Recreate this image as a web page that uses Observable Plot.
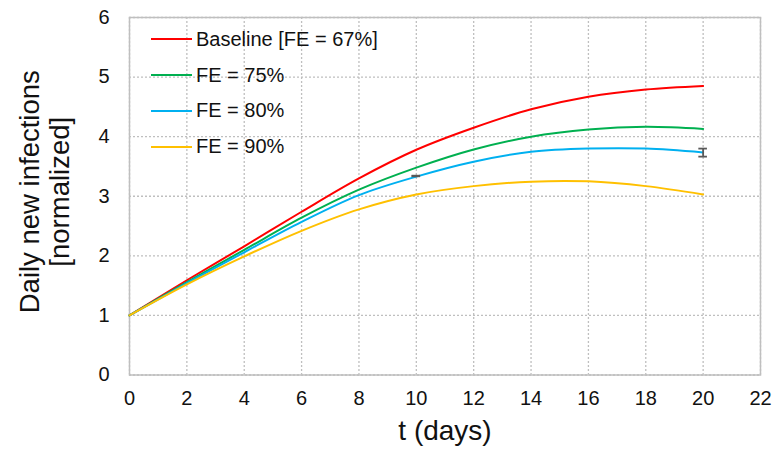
<!DOCTYPE html>
<html>
<head>
<meta charset="utf-8">
<script src="https://cdn.jsdelivr.net/npm/d3@7"></script>
<script src="https://cdn.jsdelivr.net/npm/@observablehq/plot@0.6"></script>
<style>
  body { margin: 0; background: #fff; }
  #wrap { position: relative; width: 772px; height: 450px; font-family: "Liberation Sans", Arial, sans-serif; }
  #legend { position: absolute; left: 0; top: 21.4px; }
  .item { height: 35.8px; display: flex; align-items: center; font-size: 20px; color: #111; }
  .item svg { margin-left: 151px; margin-right: 4px; }
</style>
</head>
<body>
<div id="wrap"><div id="legend"></div></div>
<script>
const t = [0, 2, 4, 6, 8, 10, 12, 14, 16, 18, 20];
const baseline = [1, 1.59, 2.16, 2.74, 3.30, 3.78, 4.15, 4.46, 4.67, 4.79, 4.85];
const fe75 = [1, 1.56, 2.10, 2.64, 3.11, 3.48, 3.785, 4.00, 4.12, 4.165, 4.13];
const fe80 = [1, 1.54, 2.06, 2.57, 3.02, 3.33, 3.58, 3.745, 3.80, 3.80, 3.735];
const fe90 = [1, 1.52, 1.99, 2.42, 2.78, 3.03, 3.17, 3.245, 3.25, 3.17, 3.03];
const seriesNames = ["Baseline [FE = 67%]", "FE = 75%", "FE = 80%", "FE = 90%"];
const seriesColors = ["#ff0000", "#00b050", "#00b0f0", "#ffc000"];
const xTicks = [0, 2, 4, 6, 8, 10, 12, 14, 16, 18, 20, 22];
const yTicks = [0, 1, 2, 3, 4, 5, 6];
const errT = [10, 20];
const errLo = [3.335, 3.665];
const errHi = [3.345, 3.80];

const seriesValues = [baseline, fe75, fe80, fe90];
const rows = [];
seriesValues.forEach((vals, si) => vals.forEach((v, i) => rows.push({t: t[i], v, s: seriesNames[si]})));
const errRows = errT.map((x, i) => ({t: x, lo: errLo[i], hi: errHi[i]}));
const capHalf = 0.15;

const chart = Plot.plot({
  width: 772, height: 450,
  marginLeft: 129, marginRight: 12, marginTop: 17, marginBottom: 75.5,
  style: {fontFamily: '"Liberation Sans", Arial, sans-serif', fontSize: "20px", color: "#111", background: "white", overflow: "visible"},
  x: {domain: [0, 22]},
  y: {domain: [0, 6]},
  color: {domain: seriesNames, range: seriesColors},
  marks: [
    Plot.gridX(xTicks, {stroke: "#bfbfbf", strokeOpacity: 1, strokeDasharray: "2,2", strokeWidth: 1.3}),
    Plot.gridY(yTicks, {stroke: "#bfbfbf", strokeOpacity: 1, strokeDasharray: "2,2", strokeWidth: 1.3}),
    Plot.frame({stroke: "#bfbfbf", strokeWidth: 1.5}),
    Plot.axisX(xTicks, {tickSize: 0, tickPadding: 16, label: null, fontSize: 20, tickFormat: d3.format("d")}),
    Plot.axisY(yTicks, {tickSize: 0, tickPadding: 20, label: null, fontSize: 20, tickFormat: d3.format("d")}),
    Plot.line(rows, {x: "t", y: "v", z: "s", stroke: "s", strokeWidth: 2, curve: "catmull-rom"}),
    Plot.ruleX(errRows, {x: "t", y1: "lo", y2: "hi", stroke: "#595959", strokeWidth: 1.8}),
    Plot.ruleY(errRows, {y: "lo", x1: d => d.t - capHalf, x2: d => d.t + capHalf, stroke: "#595959", strokeWidth: 1.8}),
    Plot.ruleY(errRows, {y: "hi", x1: d => d.t - capHalf, x2: d => d.t + capHalf, stroke: "#595959", strokeWidth: 1.8}),
    Plot.text(["t (days)"], {text: d => d, frameAnchor: "bottom", textAnchor: "middle", lineAnchor: "middle", dy: 56, fontSize: 28, fill: "#111"}),
    Plot.text(["Daily new infections\n[normalized]"], {text: d => d, frameAnchor: "left", textAnchor: "middle", lineAnchor: "middle", dx: -85.5, dy: -4.5, rotate: -90, fontSize: 27.5, lineHeight: 1.1, fill: "#111"})
  ]
});
const wrap = document.getElementById("wrap");
wrap.insertBefore(chart, wrap.firstChild);

const legend = document.getElementById("legend");
seriesNames.forEach((name, i) => {
  const item = document.createElement("div");
  item.className = "item";
  item.innerHTML = `<svg width="41" height="4"><line x1="0" y1="2" x2="41" y2="2" stroke="${seriesColors[i]}" stroke-width="2"/></svg><span>${name}</span>`;
  legend.appendChild(item);
});
</script>
</body>
</html>
